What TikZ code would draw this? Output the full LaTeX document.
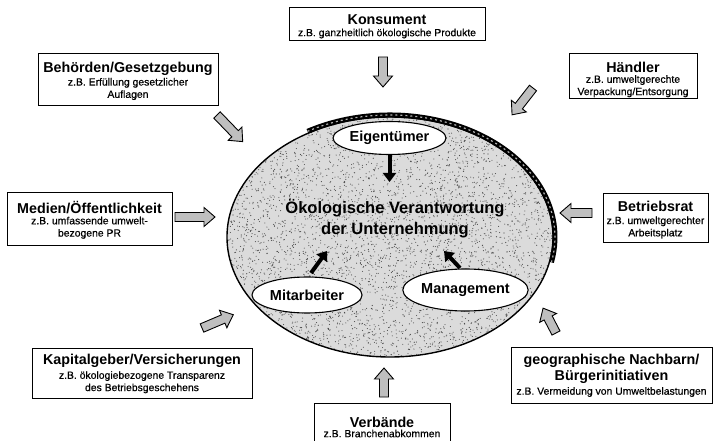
\documentclass[tikz,border=0pt]{standalone}
\usepackage{fontspec}
\setmainfont{Liberation Sans}
\newfontfamily\subfont{Liberation Sans}[FakeBold=0.5]
\usetikzlibrary{shapes.geometric,arrows.meta}
\newcommand{\blockarr}[4]{%
  \begin{scope}[shift={(#1,#2)},rotate=#3]
    \draw[barrowstyle] (0,-4.5) -- ({#4-11},-4.5) -- ({#4-11},-9.5) -- (#4,0) -- ({#4-11},9.5) -- ({#4-11},4.5) -- (0,4.5) -- cycle;
  \end{scope}}
\begin{document}
\begin{tikzpicture}[x=1pt,y=-1pt,
  box/.style={draw=black, line width=1pt, fill=white, inner sep=0pt},
  ttl/.style={font=\fontsize{14.3}{16}\selectfont\bfseries, inner sep=0pt, align=center},
  sub/.style={font=\subfont\fontsize{10.4}{12.3}\selectfont, inner sep=0pt, align=center},
  inell/.style={ellipse, draw=black, line width=1.1pt, fill=white, inner sep=0pt, font=\fontsize{14.5}{16}\selectfont\bfseries},
  barrowstyle/.style={draw=black, line width=0.9pt, fill=gray!50, line join=miter},
  innarrow/.style={line width=4pt, -{Triangle[length=9pt,width=13pt]}}
]
\useasboundingbox (0,0) rectangle (713,441);

% main ellipse
\coordinate (main) at (390,237);
\fill[gray!28] (main) ellipse [x radius=163pt, y radius=120pt];
\begin{scope}
  \clip (main) ellipse [x radius=163pt, y radius=120pt];
  \pgfmathsetseed{42}
  \foreach \i in {1,...,5000} {
    \fill[black!70] ({227+326*rnd},{117+240*rnd}) circle[radius=0.55pt];
  }
\end{scope}
\draw[line width=1.4pt] (main) ellipse [x radius=163pt, y radius=120pt];
\draw[line width=5pt, black] ([shift={(120:165pt and 122pt)}]main) arc[start angle=120, end angle=-12, x radius=165pt, y radius=122pt];
\draw[line width=1.2pt, gray!60, dash pattern=on 2pt off 3pt] ([shift={(120:165pt and 122pt)}]main) arc[start angle=120, end angle=-12, x radius=165pt, y radius=122pt];

% inner ellipses
\node[inell, minimum width=113pt, minimum height=33pt] (eig) at (389.5,138) {Eigentümer};
\node[inell, minimum width=110pt, minimum height=36pt] (mit) at (307,295) {Mitarbeiter};
\node[inell, minimum width=115pt, minimum height=42pt] (man) at (465.5,290) {Management};

\node[font=\fontsize{16.5}{21}\selectfont\bfseries, align=center, inner sep=0pt] (ctr) at (395,218.5) {Ökologische Verantwortung\\der Unternehmung};

% inner arrows
\coordinate (eigTip) at (389.5,182);
\coordinate (mitTail) at (311,273);
\coordinate (mitTip) at (327,251);
\coordinate (manTail) at (460,268);
\coordinate (manTip) at (444,251);
\draw[innarrow] (eig.south) -- (eigTip);
\draw[innarrow] (mitTail) -- (mitTip);
\draw[innarrow] (manTail) -- (manTip);

% boxes
\node[box, minimum width=196pt, minimum height=33pt] (kons) at (387,24.5) {};
\node[ttl] (konsT) at (387,19.5) {Konsument};
\node[sub] (konsS) at (387,33.5) {z.B. ganzheitlich ökologische Produkte};

\node[box, minimum width=180pt, minimum height=52pt] (beh) at (128,80) {};
\node[ttl] (behT) at (128,69) {Behörden/Gesetzgebung};
\node[sub] (behS) at (128,89) {z.B. Erfüllung gesetzlicher\\Auflagen};

\node[box, minimum width=128pt, minimum height=45pt] (haen) at (633,76.5) {};
\node[ttl] (haenT) at (633,67) {Händler};
\node[sub] (haenS) at (633,86.25) {z.B. umweltgerechte\\Verpackung/Entsorgung};

\node[box, minimum width=165pt, minimum height=53pt] (med) at (89.5,219.5) {};
\node[ttl] (medT) at (89.5,207.5) {Medien/Öffentlichkeit};
\node[sub] (medS) at (89.5,227.75) {z.B. umfassende umwelt-\\bezogene PR};

\node[box, minimum width=105pt, minimum height=49pt] (betr) at (655.5,218.5) {};
\node[ttl] (betrT) at (655.5,206) {Betriebsrat};
\node[sub] (betrS) at (655.5,227.5) {z.B. umweltgerechter\\Arbeitsplatz};

\node[box, minimum width=220pt, minimum height=50pt] (kap) at (142,373) {};
\node[ttl] (kapT) at (142,361) {Kapitalgeber/Versicherungen};
\node[sub] (kapS) at (142,382.25) {z.B. ökologiebezogene Transparenz\\des Betriebsgeschehens};

\node[box, minimum width=136pt, minimum height=42pt] (verb) at (382,424) {};
\node[ttl] (verbT) at (382,422) {Verbände};
\node[sub] (verbS) at (382,433.5) {z.B. Branchenabkommen};

\node[box, minimum width=201pt, minimum height=56pt] (geo) at (611.5,375) {};
\node[ttl] (geoT) at (611.5,369) {geographische Nachbarn/\\Bürgerinitiativen};
\node[sub] (geoS) at (611.5,392) {z.B. Vermeidung von Umweltbelastungen};

% block arrows
\blockarr{383}{57}{-90}{30}
\blockarr{217}{115}{-46}{37}
\blockarr{533}{88}{-128}{34}
\blockarr{175}{217}{0}{40}
\blockarr{592}{213}{180}{32}
\blockarr{202}{328}{23}{34}
\blockarr{384}{397}{90}{29}
\blockarr{556}{333}{117.5}{28}
\end{tikzpicture}
\end{document}
